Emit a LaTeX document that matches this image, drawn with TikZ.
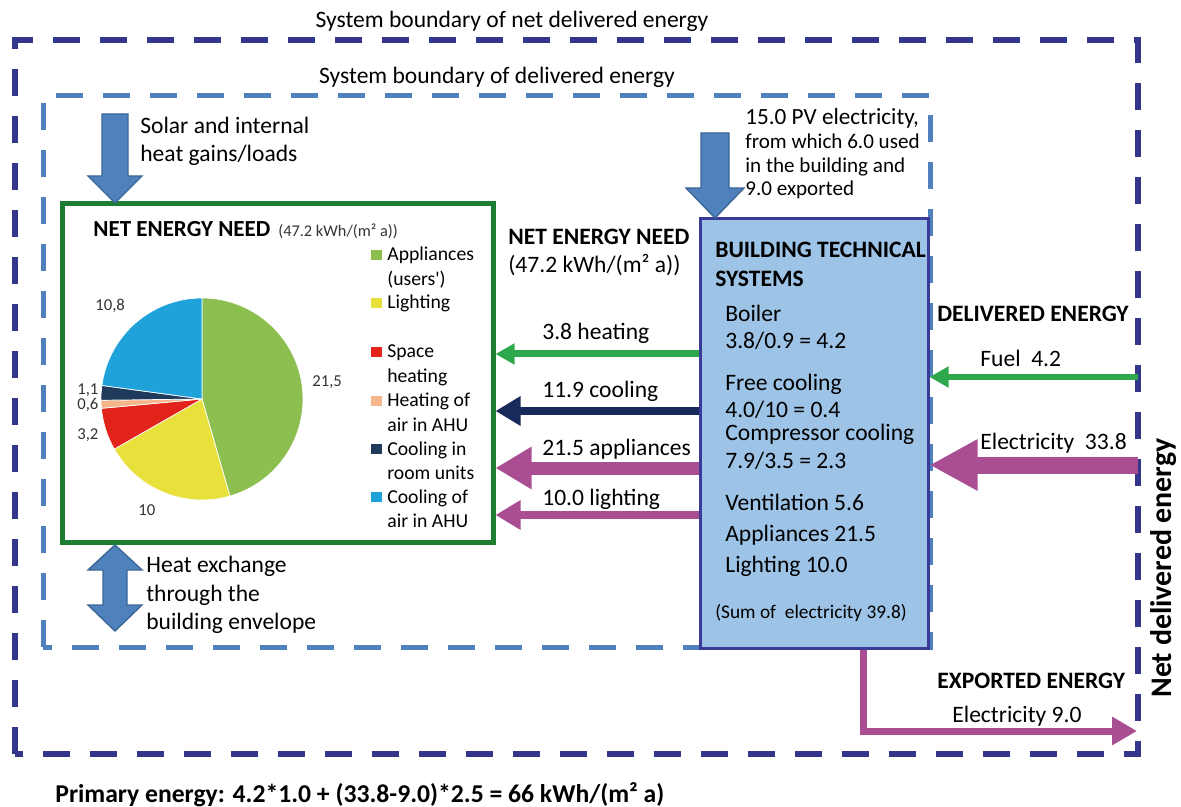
\documentclass[tikz,border=0pt]{standalone}
\usepackage{fontspec}
\setmainfont{Carlito}
\usepackage{tikz}
\usetikzlibrary{arrows.meta,positioning}
\definecolor{netblue}{HTML}{34368C}
\definecolor{delblue}{HTML}{4F81BD}
\definecolor{needgreen}{HTML}{1D7D33}
\definecolor{btsfill}{HTML}{9DC3E6}
\definecolor{btsline}{HTML}{3A3B98}
\definecolor{heatgreen}{HTML}{2EA84C}
\definecolor{coolnavy}{HTML}{182A5C}
\definecolor{elpurple}{HTML}{A94E93}
\definecolor{gainblue}{HTML}{4F81BD}
\definecolor{gainline}{HTML}{3C6797}
\definecolor{pgreen}{HTML}{8DBF50}
\definecolor{pyellow}{HTML}{E8E13C}
\definecolor{pred}{HTML}{E2231B}
\definecolor{ppeach}{HTML}{F5B68C}
\definecolor{pnavy}{HTML}{203A5C}
\definecolor{pblue}{HTML}{1FA1DA}
\newcommand\fmain{\fontsize{13.4}{15}\selectfont}
\tikzset{
  lbl/.style={anchor=base west,inner sep=0pt,font=\fmain},
  hd/.style={anchor=base west,inner sep=0pt,font=\fmain\bfseries},
  legtxt/.style={anchor=base west,inner sep=0pt,font=\fontsize{11.2}{13}\selectfont},
  pielbl/.style={anchor=base west,inner sep=0pt,font=\fontsize{9.5}{11}\selectfont,text=black!80},
  bound/.style={dash pattern=on 5.4mm off 4mm},
  thinar/.style={line width=1.4mm,-{Triangle[length=3.8mm,width=4mm]}},
  midar/.style={line width=1.6mm,-{Triangle[length=5mm,width=5.6mm]}},
  bigar/.style={line width=2.6mm,-{Triangle[length=7.2mm,width=8mm]}},
  hugear/.style={line width=3.4mm,-{Triangle[length=9.6mm,width=9.6mm]}},
  blockar/.style={fill=gainblue,draw=gainline,line width=0.8pt,line join=miter}
}
\begin{document}
\begin{tikzpicture}[x=0.2mm,y=-0.2mm]
\useasboundingbox (0,0) rectangle (1181,807);
% system boundaries
\draw[netblue,line width=1.2mm,bound] (15,754) -- (15,40) -- (1138,40) -- (1138,754) -- cycle;
\draw[delblue,line width=1mm,bound] (43,647) -- (43,96) -- (930,96) -- (930,647) -- cycle;
\node[font=\fmain,inner sep=0pt,anchor=base] (tnet) at (512,28) {System boundary of net delivered energy};
\node[font=\fmain,inner sep=0pt,anchor=base] (tdel) at (497,84) {System boundary of delivered energy};

% net energy need box with pie
\node[draw=needgreen,line width=1mm,fill=white,minimum width=86mm,minimum height=67.6mm] (need) at (278,373) {};
\node[hd,font=\fontsize{13.1}{15}\selectfont\bfseries] (pietitle) at (93,237) {NET ENERGY NEED};
\node[lbl,font=\fontsize{9.3}{11}\selectfont,text=black!80] (pieunit) at (278,237) {(47.2 kWh/(m² a))};
\coordinate (pc) at (202,399);
\foreach \a/\b/\c in {90/-74/pgreen,-74/-150.3/pyellow,-150.3/-174.7/pred,-174.7/-179.3/ppeach,-179.3/-187.7/pnavy,-187.7/-270/pblue}
  \fill[\c,draw=white,line width=0.4pt] (pc) -- ++(\a:20.2mm) arc[start angle=\a,end angle=\b,radius=20.2mm] -- cycle;
\node[pielbl] (v1) at (312,387) {21,5};
\node[pielbl] (v2) at (138,515) {10};
\node[pielbl] (v3) at (77,439) {3,2};
\node[pielbl] (v4) at (77,410) {0,6};
\node[pielbl] (v5) at (77,395) {1,1};
\node[pielbl] (v6) at (95,311) {10,8};
\foreach \y/\c/\ta/\tb in {261/pgreen/Appliances/(users\textquotesingle),309/pyellow/Lighting/{},358/pred/Space/heating,407/ppeach/Heating of/air in AHU,455/pnavy/Cooling in/room units,503/pblue/Cooling of/air in AHU}{
  \fill[\c] (371,\y-11) rectangle ++(11,10);
  \node[legtxt] (leg\y) at (387,\y) {\ta};
  \node[legtxt] (legb\y) at (387,\y+24.5) {\tb};
}

% gains and envelope
\draw[blockar] (102,114) -- (128,114) -- (128,176) -- (142,176) -- (115,203) -- (88,176) -- (102,176) -- cycle;
\node[lbl] (solar1) at (140,134) {Solar and internal};
\node[lbl] (solar2) at (140,162) {heat gains/loads};
\draw[blockar] (115,545) -- (142,570) -- (127,570) -- (127,605) -- (142,605) -- (115,631) -- (88,605) -- (103,605) -- (103,570) -- (88,570) -- cycle;
\node[lbl] (env1) at (146,572) {Heat exchange};
\node[lbl] (env2) at (146,601) {through the};
\node[lbl] (env3) at (146,629) {building envelope};

% building technical systems
\node[draw=btsline,line width=0.6mm,fill=btsfill,minimum width=45.6mm,minimum height=85.8mm] (bts) at (814,433.5) {};
\draw[blockar] (701,133) -- (729,133) -- (729,188) -- (744,188) -- (715,218) -- (686,188) -- (701,188) -- cycle;
\node[lbl,font=\fontsize{13.2}{15}\selectfont] (pv1) at (745,125) {15.0 PV electricity,};
\node[lbl,font=\fontsize{12}{14}\selectfont] (pv2) at (745,149) {from which 6.0 used};
\node[lbl,font=\fontsize{12}{14}\selectfont] (pv3) at (745,173) {in the building and};
\node[lbl,font=\fontsize{12}{14}\selectfont] (pv4) at (745,196) {9.0 exported};
\node[hd] (btst1) at (715,258) {BUILDING TECHNICAL};
\node[hd] (btst2) at (715,287) {SYSTEMS};
\node[lbl] (b1) at (725,322) {Boiler};
\node[lbl] (b2) at (725,349) {3.8/0.9 = 4.2};
\node[lbl] (b3) at (725,390) {Free cooling};
\node[lbl] (b4) at (725,417) {4.0/10 = 0.4};
\node[lbl] (b5) at (725,440) {Compressor cooling};
\node[lbl] (b6) at (725,468) {7.9/3.5 = 2.3};
\node[lbl] (b7) at (725,510) {Ventilation 5.6};
\node[lbl] (b8) at (725,541) {Appliances 21.5};
\node[lbl] (b9) at (725,572) {Lighting 10.0};
\node[lbl,font=\fontsize{11}{13}\selectfont] (bsum) at (715,618) {(Sum of~ electricity 39.8)};

% net energy need flows
\node[hd] (nen1) at (508,245) {NET ENERGY NEED};
\node[lbl] (nen2) at (508,273) {(47.2 kWh/(m² a))};
\draw[thinar,heatgreen] (bts.west |- 0,354) -- (need.east |- 0,354);
\draw[midar,coolnavy] (bts.west |- 0,411) -- (need.east |- 0,411);
\draw[bigar,elpurple] (bts.west |- 0,468) -- (need.east |- 0,468);
\draw[midar,elpurple] (bts.west |- 0,515) -- (need.east |- 0,515);
\node[lbl] (f1) at (542,340) {3.8 heating};
\node[lbl] (f2) at (542,398) {11.9 cooling};
\node[lbl] (f3) at (542,455) {21.5 appliances};
\node[lbl] (f4) at (542,505) {10.0 lighting};

% delivered and exported energy
\coordinate (fuelin) at (1138,377);
\coordinate (elin) at (1138,465);
\coordinate (expout) at (1137,731);
\node[hd] (deltitle) at (937,322) {DELIVERED ENERGY};
\draw[thinar,heatgreen,line width=1.2mm] (fuelin) -- (bts.east |- fuelin);
\node[lbl] (fuel) at (980,367) {Fuel~ 4.2};
\draw[hugear,elpurple] (elin) -- (bts.east |- elin);
\node[lbl] (elec) at (980,450) {Electricity~ 33.8};
\node[hd] (exptitle) at (937,688) {EXPORTED ENERGY};
\draw[elpurple,line width=1.4mm,-{Triangle[length=5mm,width=5.4mm]}] (bts.south -| 863,0) |- (expout);
\node[lbl] (expel) at (952,722) {Electricity 9.0};
\node[font=\fontsize{17}{20}\selectfont\bfseries,rotate=90,inner sep=0pt] (netlbl) at (1164,568) {Net delivered energy};

% primary energy
\node[hd,font=\fontsize{14.6}{16}\selectfont\bfseries] (prim) at (55,802) {Primary energy: 4.2*1.0 + (33.8-9.0)*2.5 = 66 kWh/(m² a)};
\end{tikzpicture}
\end{document}
